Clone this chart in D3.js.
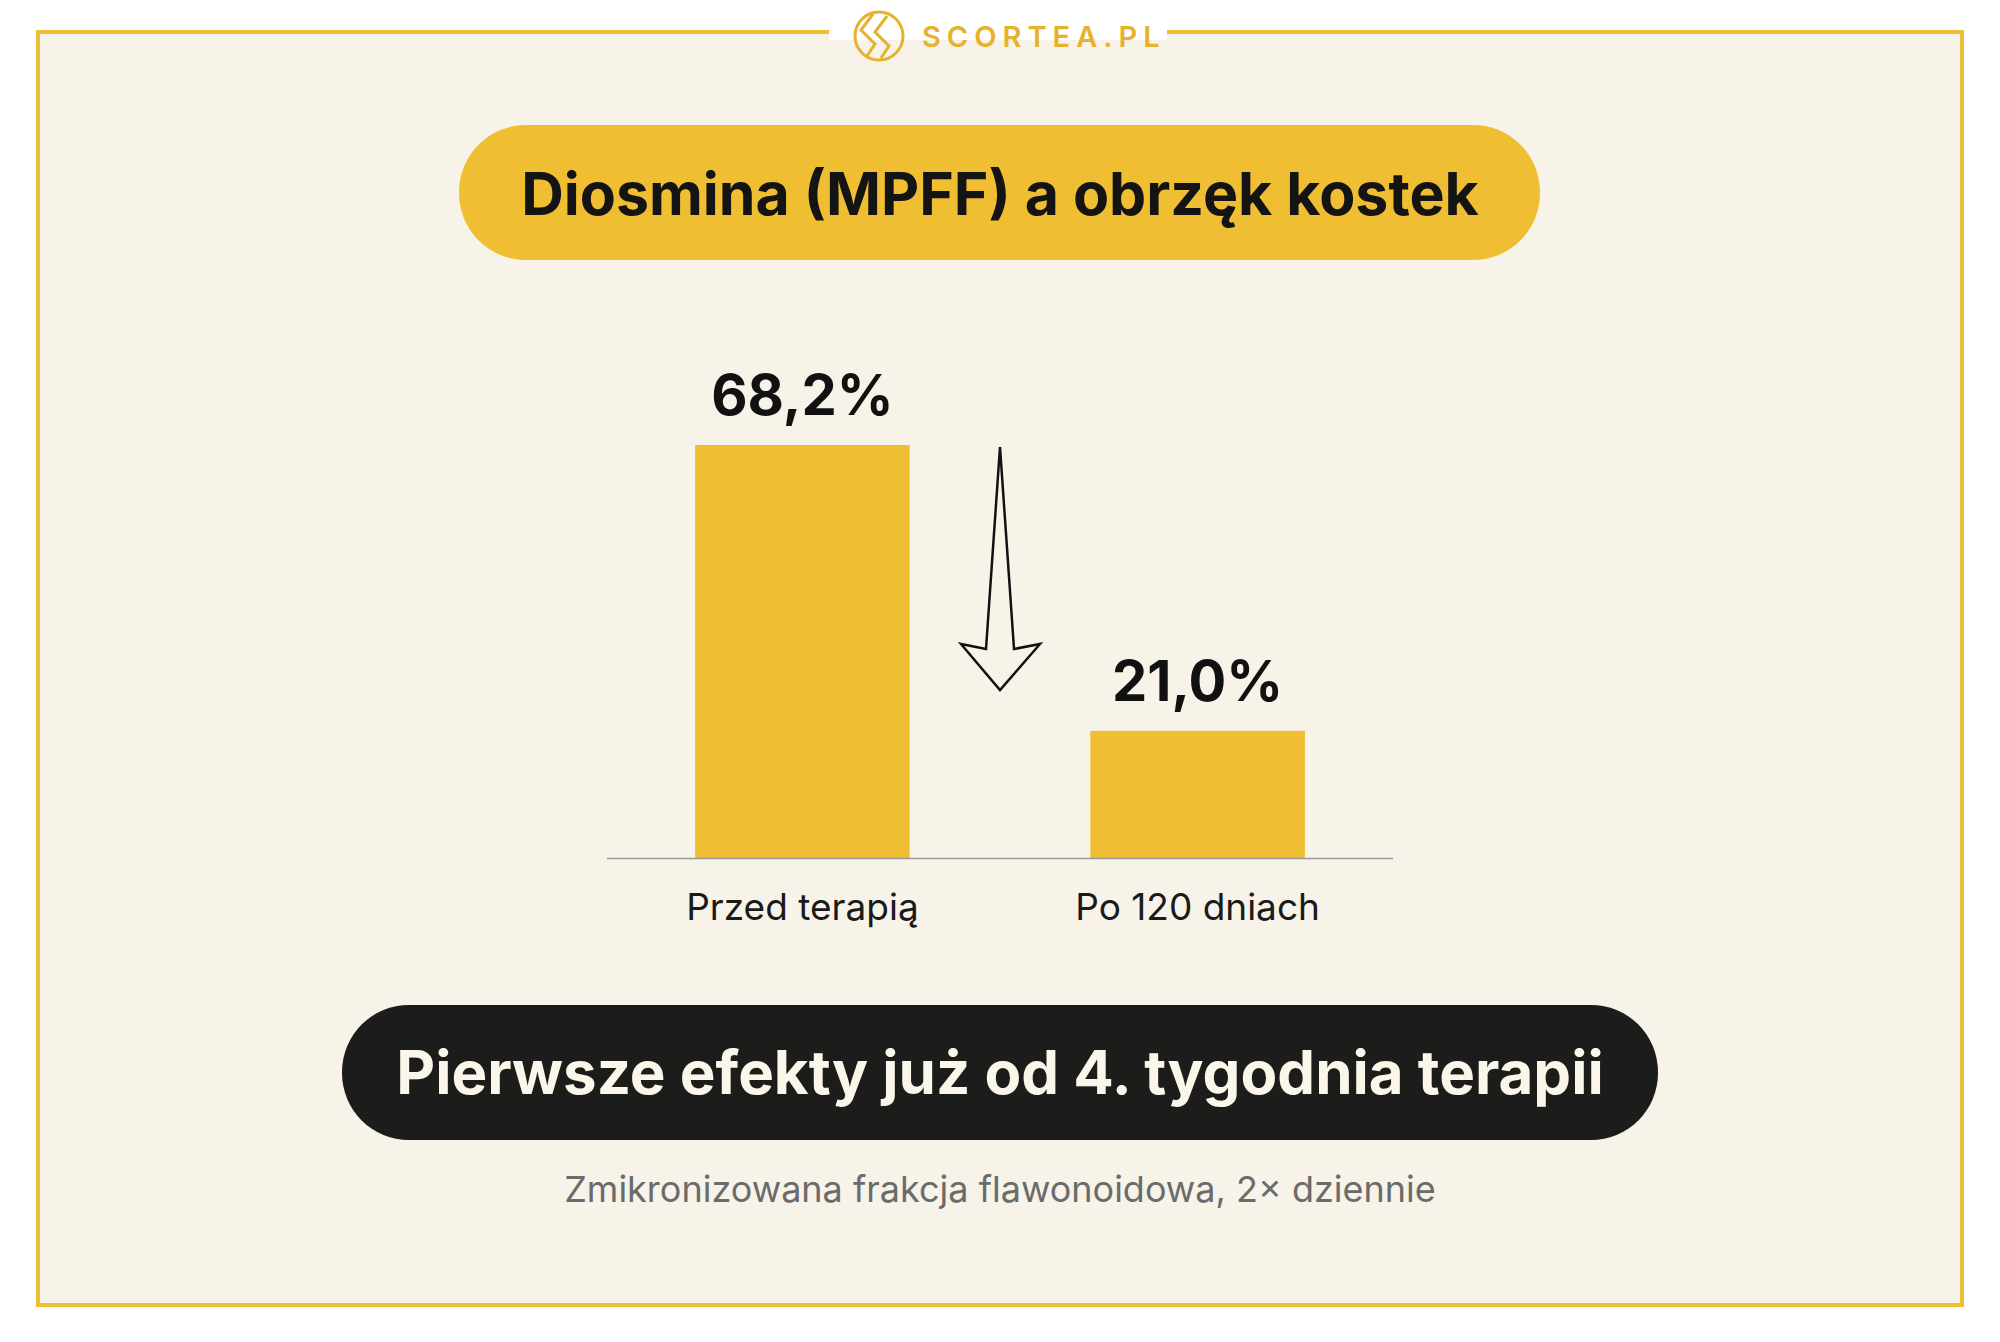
<!DOCTYPE html><html><head><meta charset="utf-8"><script src="https://cdn.jsdelivr.net/npm/d3@7"></script>
<style>body{margin:0;background:#fff}svg{display:block;font-family:Inter,"Noto Sans",sans-serif}</style></head><body><svg id="c" width="2000" height="1342"></svg>
<script>
const categories=["Przed terapią","Po 120 dniach"];
const values=[68.2,21.0];
const valueLabels=["68,2%","21,0%"];
const title="Diosmina (MPFF) a obrzęk kostek";
const banner="Pierwsze efekty już od 4. tygodnia terapii";
const note="Zmikronizowana frakcja flawonoidowa, 2× dziennie";
const svg=d3.select("#c");
const Y="#f0be32";
svg.append("rect").attr("x",38).attr("y",32).attr("width",1924).attr("height",1273).attr("fill","#f7f3e8").attr("stroke",Y).attr("stroke-width",4);
svg.append("rect").attr("x",829).attr("y",26).attr("width",338).attr("height",14).attr("fill","#fff");
const lg=svg.append("g").attr("transform","translate(879,36)");
lg.append("circle").attr("r",24).attr("fill","none").attr("stroke","#e6b22c").attr("stroke-width",3);
lg.append("path").attr("d","M-6,-22 L-18,-6 L-4,8 L-12,20 M8,-20 L-4,-4 L10,10 L2,22").attr("fill","none").attr("stroke","#e6b22c").attr("stroke-width",3);
svg.append("text").attr("x",922).attr("y",47).attr("font-size",29).attr("font-weight",600).attr("letter-spacing",6).attr("fill","#e6b22c").text("SCORTEA.PL");
svg.append("rect").attr("x",459).attr("y",125).attr("width",1081).attr("height",135).attr("rx",67).attr("fill",Y);
svg.append("text").attr("x",1000).attr("y",194).attr("dy","0.35em").attr("text-anchor","middle").attr("font-size",59).attr("font-weight",700).attr("fill","#141414").text(title);
const x=d3.scaleBand().domain(categories).range([607,1393]).paddingInner(0.457).paddingOuter(0.223);
const y=d3.scaleLinear().domain([0,68.2]).range([858,445]);
svg.selectAll(".b").data(values).join("rect").attr("x",(d,i)=>x(categories[i])).attr("width",x.bandwidth()).attr("y",d=>y(d)).attr("height",d=>858-y(d)).attr("fill",Y);
svg.append("line").attr("x1",607).attr("x2",1393).attr("y1",858.5).attr("y2",858.5).attr("stroke","#999").attr("stroke-width",1.5);
svg.selectAll(".v").data(values).join("text").attr("x",(d,i)=>x(categories[i])+x.bandwidth()/2).attr("y",d=>y(d)-30).attr("text-anchor","middle").attr("font-size",56).attr("font-weight",700).attr("fill","#111").text((d,i)=>valueLabels[i]);
svg.selectAll(".c").data(categories).join("text").attr("x",d=>x(d)+x.bandwidth()/2).attr("y",920).attr("text-anchor","middle").attr("font-size",37).attr("fill","#1a1a1a").text(d=>d);
svg.append("path").attr("d","M1000,447 L1014,649 L1040,644 L1000,690 L961,644 L986,649 Z").attr("fill","none").attr("stroke","#111").attr("stroke-width",2.5).attr("stroke-linejoin","miter");
svg.append("rect").attr("x",342).attr("y",1005).attr("width",1316).attr("height",135).attr("rx",67).attr("fill","#1c1c1a");
svg.append("text").attr("x",1000).attr("y",1073).attr("dy","0.35em").attr("text-anchor","middle").attr("font-size",60).attr("font-weight",700).attr("fill","#fbf6ea").text(banner);
svg.append("text").attr("x",1000).attr("y",1189).attr("dy","0.35em").attr("text-anchor","middle").attr("font-size",36).attr("fill","#6b6b6b").text(note);
</script></body></html>
